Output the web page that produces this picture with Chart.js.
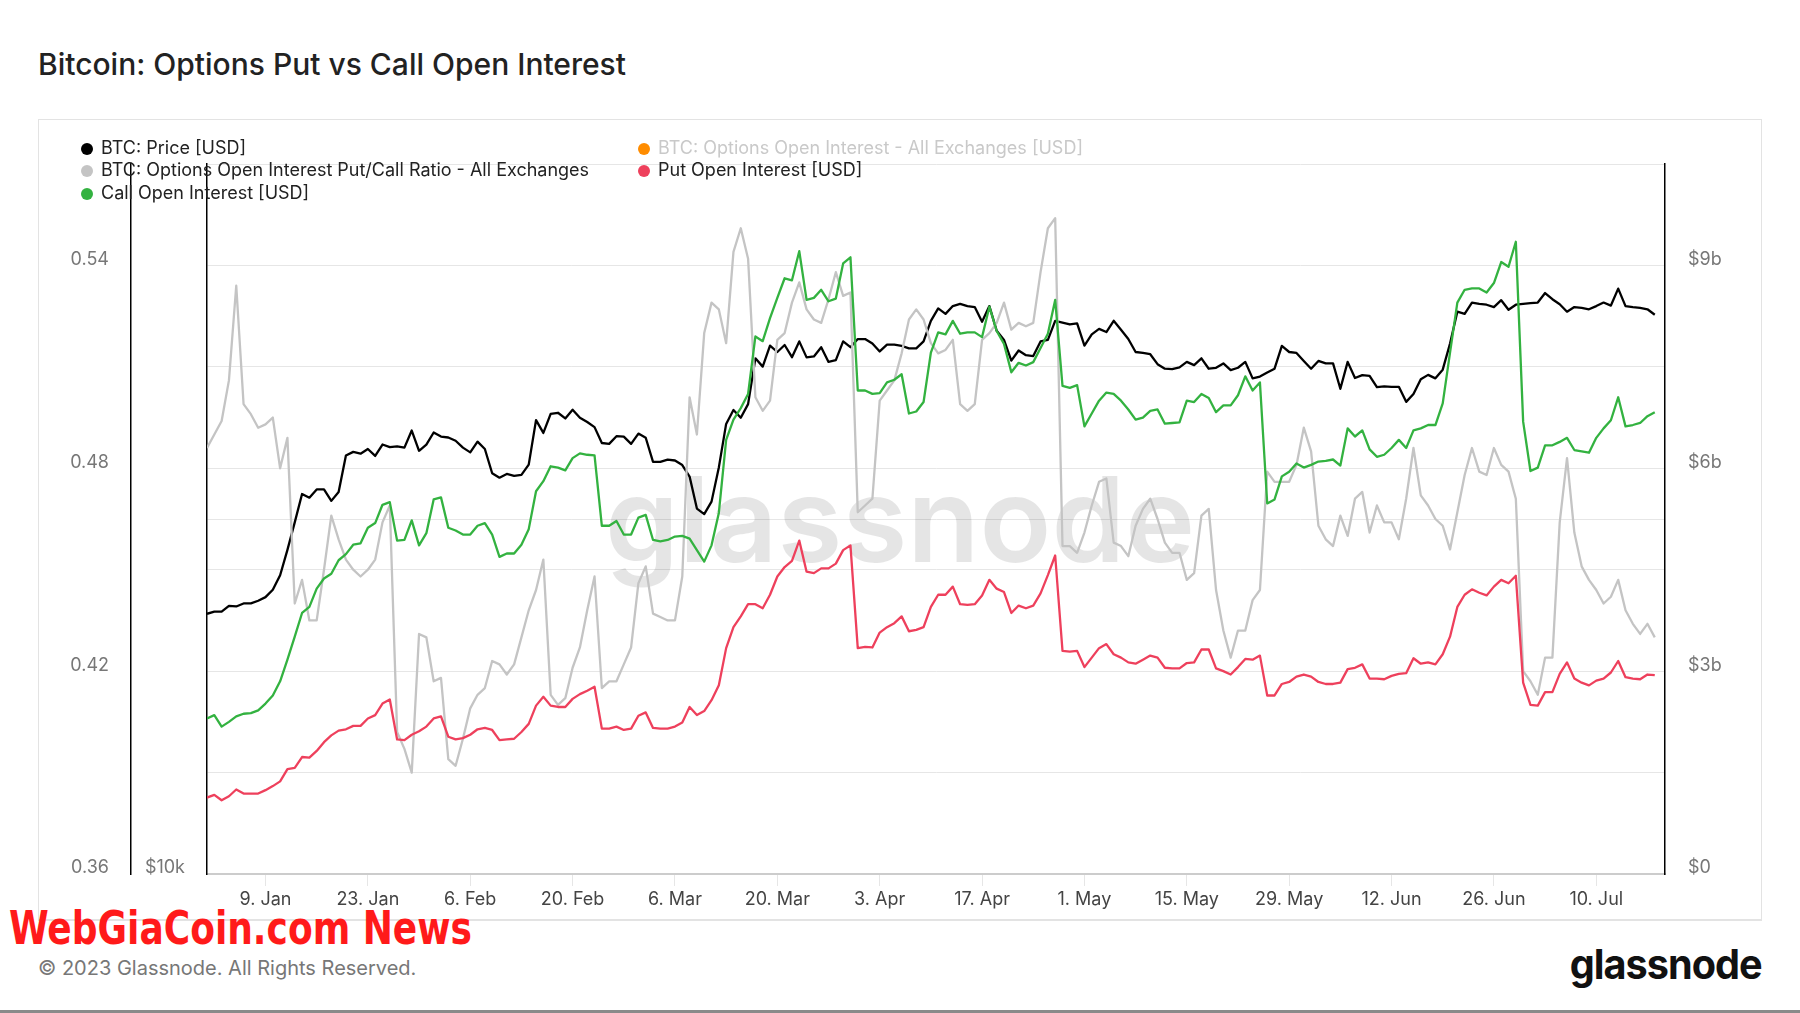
<!DOCTYPE html>
<html>
<head>
<meta charset="utf-8">
<title>Bitcoin: Options Put vs Call Open Interest</title>
<script src="https://cdn.jsdelivr.net/npm/chart.js@4.4.0/dist/chart.umd.min.js"></script>
<style>
    body { margin: 0; background: #fff; font-family: Inter, 'Noto Sans', sans-serif; }
    #page { position: relative; width: 1800px; height: 1013px; overflow: hidden; }
    #chart { position: absolute; left: 0; top: 0; z-index: 1; }
    .title { position: absolute; left: 38px; top: 47px; line-height: 34px; font-size: 30px; font-weight: 500; color: #222; }
    .box { position: absolute; left: 38px; top: 119px; width: 1722px; height: 799px; border: 1px solid #e3e3e3; border-bottom: 2px solid #e3e3e3; }
    .legend-item { position: absolute; z-index: 2; height: 22px; line-height: 22px; font-size: 18px; color: #222; white-space: nowrap; }
    .legend-item .dot { display: inline-block; width: 12px; height: 12px; border-radius: 50%; margin-right: 8px; vertical-align: -1px; }
    .legend-item.off { color: #c9c9c9; }
    .wgc { position: absolute; left: 9px; top: 905px; font-family: 'Liberation Sans Narrow', 'DejaVu Sans Condensed', sans-serif; font-weight: bold; font-size: 46px; line-height: 46px; color: #ff1a1a; white-space: nowrap; transform-origin: 0 0; }
    .copy { position: absolute; left: 38px; top: 955px; line-height: 26px; font-size: 20px; color: #777; }
    .logo { position: absolute; right: 38px; top: 940px; line-height: 48px; font-size: 41px; font-weight: 700; letter-spacing: -1px; color: #111; transform-origin: 100% 50%; }
    .bar { position: absolute; left: 0; top: 1010px; width: 1800px; height: 3px; background: #8a8a8a; }
</style>
</head>
<body>
<div id="page">
    <div class="title">Bitcoin: Options Put vs Call Open Interest</div>
    <div class="box"></div>
    <canvas id="chart" width="1800" height="1013"></canvas>

    <div class="legend-item" style="left:81px; top:137px;"><span class="dot" style="background:#000"></span>BTC: Price [USD]</div>
    <div class="legend-item off" style="left:638px; top:137px;"><span class="dot" style="background:#ff8c00"></span>BTC: Options Open Interest - All Exchanges [USD]</div>
    <div class="legend-item" style="left:81px; top:159px;"><span class="dot" style="background:#c4c4c4"></span>BTC: Options Open Interest Put/Call Ratio - All Exchanges</div>
    <div class="legend-item" style="left:638px; top:159px;"><span class="dot" style="background:#ee405c"></span>Put Open Interest [USD]</div>
    <div class="legend-item" style="left:81px; top:182px;"><span class="dot" style="background:#33b240"></span>Call Open Interest [USD]</div>

    <div class="wgc" id="wgc">WebGiaCoin.com News</div>
    <div class="copy">© 2023 Glassnode. All Rights Reserved.</div>
    <div class="logo" id="logo">glassnode</div>
    <div class="bar"></div>
</div>

<script>
// x axis: day number since 1 Jan 2023 (daily points, 1 Jan .. 18 Jul)
const tickDays = [8, 22, 36, 50, 64, 78, 92, 106, 120, 134, 148, 162, 176, 190];
const tickLabels = ['9. Jan', '23. Jan', '6. Feb', '20. Feb', '6. Mar', '20. Mar', '3. Apr', '17. Apr',
    '1. May', '15. May', '29. May', '12. Jun', '26. Jun', '10. Jul'];

// left axis (put/call ratio) - gridlines every 0.03, labels every 0.06
const ratioTicks = [0.36, 0.39, 0.42, 0.45, 0.48, 0.51, 0.54, 0.57];
const ratioLabels = ['0.36', '', '0.42', '', '0.48', '', '0.54', ''];
// inner left axis (price, log)
const priceTicks = [10000, 20000];
const priceLabels = ['$10k', ''];
// right axis (open interest, USD billions)
const oiTicks = [0, 3, 6, 9];
const oiLabels = ['$0', '$3b', '$6b', '$9b'];

// BTC price [USD]
const price = [
    16620, 16690, 16690, 16880, 16860, 16960, 16960, 17050, 17170, 17420,
    17920, 18830, 19870, 21000, 20850, 21190, 21190, 20720, 21080, 22640,
    22800, 22720, 22930, 22620, 23130, 23010, 23050, 22990, 23770, 22850,
    23130, 23680, 23490, 23450, 23300, 22990, 22780, 23260, 22930, 21870,
    21680, 21840, 21760, 21800, 22240, 24260, 23660, 24560, 24610, 24340,
    24760, 24370, 24170, 23930, 23200, 23160, 23510, 23490, 23160, 23630,
    23440, 22360, 22360, 22460, 22420, 22220, 21730, 20410, 20190, 20690,
    22120, 24080, 24740, 24370, 25030, 27370, 26930, 28060, 27710, 28090,
    27430, 28290, 27420, 27470, 27970, 27180, 27270, 28290, 27970, 28420,
    28420, 28170, 27740, 28110, 28110, 28040, 27910, 27910, 28290, 29450,
    30170, 29850, 30310, 30440, 30310, 30250, 29400, 30310, 28880, 28370,
    27250, 27790, 27540, 27490, 28290, 28370, 29450, 29350, 29240, 29300,
    28060, 28680, 28990, 28810, 29450, 28940, 28420, 27710, 27660, 27590,
    27060, 26820, 26800, 26890, 27180, 27010, 27370, 26820, 26870, 27100,
    26750, 26870, 27180, 26320, 26410, 26620, 26820, 28040, 27710, 27660,
    27230, 26820, 27230, 27100, 27100, 25790, 27180, 26340, 26490, 26450,
    25870, 25910, 25890, 25890, 25140, 25530, 26270, 26500, 26320, 26770,
    28170, 29980, 29850, 30520, 30440, 30390, 30250, 30660, 30090, 30390,
    30440, 30490, 30520, 31090, 30720, 30420, 29980, 30250, 30200, 30120,
    30310, 30520, 30340, 31360, 30310, 30250, 30200, 30120, 29800
];

// Options OI put/call ratio
const ratio = [
    0.486, 0.490, 0.494, 0.506, 0.534, 0.499, 0.496, 0.492, 0.493, 0.495,
    0.480, 0.489, 0.440, 0.447, 0.435, 0.435, 0.450, 0.466, 0.459, 0.453,
    0.450, 0.448, 0.450, 0.453, 0.464, 0.469, 0.402, 0.397, 0.390, 0.431,
    0.430, 0.417, 0.418, 0.394, 0.392, 0.400, 0.409, 0.413, 0.415, 0.423,
    0.422, 0.419, 0.422, 0.430, 0.438, 0.444, 0.453, 0.413, 0.410, 0.412,
    0.421, 0.427, 0.438, 0.448, 0.415, 0.417, 0.417, 0.422, 0.427, 0.446,
    0.451, 0.437, 0.436, 0.435, 0.435, 0.448, 0.501, 0.490, 0.520, 0.529,
    0.527, 0.517, 0.544, 0.551, 0.542, 0.501, 0.497, 0.500, 0.518, 0.520,
    0.529, 0.535, 0.527, 0.524, 0.523, 0.530, 0.538, 0.531, 0.532, 0.467,
    0.469, 0.471, 0.500, 0.503, 0.506, 0.514, 0.524, 0.527, 0.524, 0.517,
    0.514, 0.515, 0.518, 0.499, 0.497, 0.499, 0.518, 0.520, 0.523, 0.529,
    0.521, 0.523, 0.522, 0.523, 0.538, 0.551, 0.554, 0.457, 0.457, 0.455,
    0.461, 0.469, 0.476, 0.477, 0.458, 0.457, 0.454, 0.463, 0.468, 0.471,
    0.465, 0.458, 0.455, 0.455, 0.447, 0.449, 0.466, 0.468, 0.444, 0.432,
    0.424, 0.432, 0.432, 0.441, 0.444, 0.479, 0.476, 0.476, 0.476, 0.481,
    0.492, 0.485, 0.463, 0.459, 0.457, 0.466, 0.460, 0.471, 0.473, 0.461,
    0.469, 0.464, 0.464, 0.459, 0.471, 0.486, 0.472, 0.469, 0.465, 0.463,
    0.456, 0.467, 0.478, 0.486, 0.479, 0.478, 0.486, 0.481, 0.479, 0.471,
    0.420, 0.417, 0.413, 0.424, 0.424, 0.464, 0.483, 0.461, 0.451, 0.447,
    0.444, 0.440, 0.442, 0.447, 0.438, 0.434, 0.431, 0.434, 0.430
];

// Put open interest [USD bn]
const putOI = [
    1.13, 1.17, 1.09, 1.15, 1.25, 1.19, 1.19, 1.19, 1.24, 1.30,
    1.37, 1.55, 1.57, 1.73, 1.72, 1.82, 1.95, 2.05, 2.12, 2.14,
    2.19, 2.19, 2.30, 2.35, 2.52, 2.58, 1.99, 1.98, 2.06, 2.11,
    2.18, 2.30, 2.33, 2.03, 1.99, 2.01, 2.06, 2.14, 2.16, 2.13,
    1.98, 1.99, 2.00, 2.10, 2.22, 2.49, 2.62, 2.49, 2.47, 2.47,
    2.59, 2.66, 2.71, 2.77, 2.15, 2.15, 2.18, 2.13, 2.15, 2.34,
    2.39, 2.16, 2.15, 2.15, 2.18, 2.24, 2.47, 2.35, 2.41, 2.57,
    2.79, 3.34, 3.65, 3.81, 3.99, 3.99, 3.93, 4.13, 4.40, 4.54,
    4.63, 4.93, 4.47, 4.45, 4.52, 4.52, 4.59, 4.79, 4.86, 3.34,
    3.36, 3.35, 3.57, 3.65, 3.71, 3.81, 3.59, 3.61, 3.65, 3.95,
    4.13, 4.13, 4.25, 3.99, 3.98, 3.99, 4.12, 4.35, 4.22, 4.17,
    3.86, 3.97, 3.93, 3.97, 4.15, 4.42, 4.71, 3.30, 3.29, 3.30,
    3.06, 3.20, 3.34, 3.40, 3.25, 3.20, 3.13, 3.11, 3.17, 3.23,
    3.20, 3.05, 3.04, 3.04, 3.12, 3.13, 3.32, 3.32, 3.04, 3.00,
    2.95, 3.06, 3.18, 3.17, 3.23, 2.64, 2.64, 2.81, 2.84, 2.92,
    2.95, 2.92, 2.84, 2.81, 2.81, 2.83, 3.03, 3.05, 3.10, 2.89,
    2.89, 2.88, 2.93, 2.96, 2.97, 3.19, 3.11, 3.13, 3.10, 3.25,
    3.51, 3.95, 4.13, 4.21, 4.16, 4.12, 4.25, 4.35, 4.30, 4.41,
    2.83, 2.50, 2.49, 2.69, 2.69, 2.96, 3.13, 2.89, 2.83, 2.79,
    2.86, 2.89, 2.98, 3.15, 2.91, 2.89, 2.88, 2.95, 2.94
];

// Call open interest [USD bn]
const callOI = [
    2.30, 2.35, 2.18, 2.25, 2.33, 2.37, 2.38, 2.42, 2.52, 2.64,
    2.85, 3.17, 3.51, 3.86, 3.95, 4.22, 4.37, 4.44, 4.64, 4.73,
    4.87, 4.89, 5.12, 5.19, 5.46, 5.50, 4.93, 4.94, 5.23, 4.86,
    5.04, 5.54, 5.57, 5.12, 5.08, 5.02, 5.02, 5.15, 5.19, 5.02,
    4.69, 4.74, 4.74, 4.87, 5.10, 5.66, 5.81, 6.03, 6.01, 5.97,
    6.15, 6.22, 6.20, 6.19, 5.15, 5.15, 5.22, 5.02, 5.02, 5.27,
    5.31, 4.94, 4.92, 4.94, 4.99, 5.00, 4.96, 4.79, 4.62, 4.86,
    5.34, 6.42, 6.72, 6.89, 7.10, 7.95, 7.88, 8.22, 8.52, 8.81,
    8.78, 9.21, 8.49, 8.52, 8.64, 8.47, 8.51, 9.03, 9.12, 7.15,
    7.15, 7.10, 7.11, 7.27, 7.31, 7.39, 6.81, 6.84, 6.98, 7.71,
    8.01, 7.98, 8.18, 7.99, 8.01, 8.01, 7.94, 8.39, 8.03, 7.84,
    7.42, 7.56, 7.52, 7.57, 7.78, 7.99, 8.49, 7.22, 7.19, 7.23,
    6.62, 6.81, 7.00, 7.12, 7.10, 7.00, 6.87, 6.72, 6.75, 6.85,
    6.87, 6.66, 6.67, 6.68, 7.00, 6.98, 7.10, 7.04, 6.83, 6.93,
    6.93, 7.08, 7.36, 7.15, 7.27, 5.48, 5.54, 5.88, 5.95, 6.07,
    6.01, 6.05, 6.10, 6.11, 6.13, 6.04, 6.59, 6.47, 6.56, 6.28,
    6.17, 6.20, 6.30, 6.42, 6.30, 6.56, 6.59, 6.64, 6.64, 6.96,
    7.71, 8.45, 8.64, 8.66, 8.66, 8.60, 8.74, 9.05, 8.98, 9.35,
    6.69, 5.96, 6.01, 6.34, 6.34, 6.39, 6.45, 6.27, 6.25, 6.23,
    6.45, 6.59, 6.71, 7.05, 6.62, 6.64, 6.67, 6.77, 6.83
];

const days = price.map((_, i) => i);

const axisFont = { family: 'Inter', size: 18 };
const gridColor = '#e6e6e6';

// big faded "glassnode" mark behind the lines
const watermark = {
    id: 'watermark',
    beforeDatasetsDraw(chart) {
        const ctx = chart.ctx;
        ctx.save();
        ctx.font = '600 120px Inter';
        const size = 120 * 590 / ctx.measureText('glassnode').width;
        ctx.font = `600 ${size}px Inter`;
        ctx.fillStyle = 'rgba(0, 0, 0, 0.1)';
        ctx.textAlign = 'center';
        ctx.textBaseline = 'alphabetic';
        ctx.fillText('glassnode', 900, 562);
        ctx.restore();
    }
};

function pickLabel(list, labels) {
    return (value) => {
        const i = list.findIndex(v => Math.abs(v - value) < 1e-6);
        return i >= 0 ? labels[i] : '';
    };
}

new Chart(document.getElementById('chart'), {
    type: 'line',
    data: {
        labels: days,
        datasets: [
            { label: 'BTC: Price [USD]', data: price, yAxisID: 'yPrice', borderColor: '#000', order: 4 },
            { label: 'BTC: Options Open Interest Put/Call Ratio - All Exchanges', data: ratio, yAxisID: 'yRatio', borderColor: '#c4c4c4', order: 3 },
            { label: 'Put Open Interest [USD]', data: putOI, yAxisID: 'yOI', borderColor: '#ee405c', order: 2 },
            { label: 'Call Open Interest [USD]', data: callOI, yAxisID: 'yOI', borderColor: '#33b240', order: 1 }
        ]
    },
    options: {
        responsive: false,
        animation: false,
        devicePixelRatio: 1,
        layout: { padding: { left: 40, right: 38, top: 164, bottom: 99 } },
        elements: {
            point: { radius: 0 },
            line: { borderWidth: 2.3, tension: 0, borderJoinStyle: 'round', fill: false }
        },
        plugins: { legend: { display: false }, tooltip: { enabled: false } },
        scales: {
            x: {
                type: 'linear', min: 0, max: 199.4,
                afterBuildTicks: s => { s.ticks = tickDays.map(v => ({ value: v })); },
                afterFit: s => { s.height = 40; },
                ticks: { autoSkip: false, maxRotation: 0, padding: 3, color: '#444', font: axisFont,
                    callback: pickLabel(tickDays, tickLabels) },
                grid: { drawOnChartArea: false, drawTicks: true, tickLength: 12, color: gridColor },
                border: { display: true, color: '#cccccc', width: 2 }
            },
            yRatio: {
                position: 'left', weight: 2, min: 0.36, max: 0.57,
                afterBuildTicks: s => { s.ticks = ratioTicks.map(v => ({ value: v })); },
                afterFit: s => { s.width = 91; },
                ticks: { autoSkip: false, padding: 22, labelOffset: -6, color: '#777', font: axisFont,
                    callback: pickLabel(ratioTicks, ratioLabels) },
                grid: { drawTicks: false, color: gridColor },
                border: { display: true, color: '#000', width: 1.5 }
            },
            yPrice: {
                type: 'logarithmic', position: 'left', weight: 1, min: 10000, max: 40000,
                afterBuildTicks: s => { s.ticks = priceTicks.map(v => ({ value: v })); },
                afterFit: s => { s.width = 76; },
                ticks: { autoSkip: false, padding: 22, labelOffset: -6, color: '#777', font: axisFont,
                    callback: pickLabel(priceTicks, priceLabels) },
                grid: { drawTicks: false, color: gridColor },
                border: { display: true, color: '#000', width: 1.5 }
            },
            yOI: {
                position: 'right', min: 0, max: 10.5,
                afterBuildTicks: s => { s.ticks = oiTicks.map(v => ({ value: v })); },
                afterFit: s => { s.width = 97; },
                ticks: { autoSkip: false, padding: 23, labelOffset: -6, color: '#777', font: axisFont,
                    callback: pickLabel(oiTicks, oiLabels) },
                grid: { display: true, drawOnChartArea: false, drawTicks: false },
                border: { display: true, color: '#000', width: 1.5 }
            }
        }
    },
    plugins: [watermark]
});

// stretch the footer texts to the widths seen in the original
function fitWidth(id, target) {
    const el = document.getElementById(id);
    const w = el.getBoundingClientRect().width;
    if (w > 0) el.style.transform = `scaleX(${target / w})`;
}
fitWidth('wgc', 463);
fitWidth('logo', 192);
</script>
</body>
</html>
